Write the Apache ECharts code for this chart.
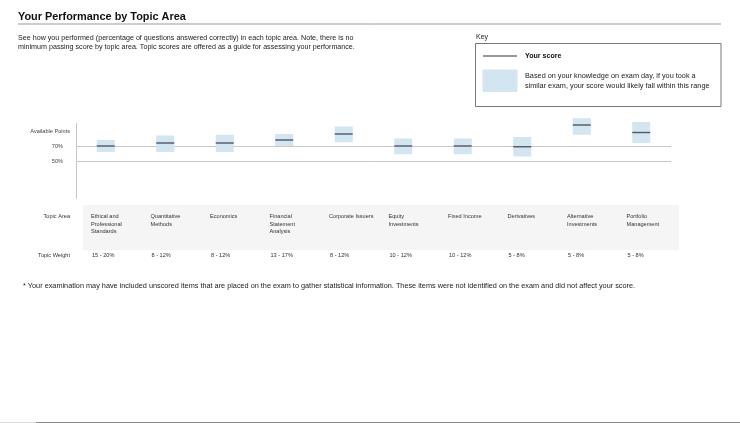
<!DOCTYPE html>
<html><head><meta charset="utf-8">
<script src="https://cdn.jsdelivr.net/npm/echarts@6/dist/echarts.min.js"></script>
<style>html,body{margin:0;padding:0;background:#fff}#c{width:740px;height:423px}</style>
</head><body><div id="c"></div>
<script>
const topics = ["Ethical and\nProfessional\nStandards","Quantitative\nMethods","Economics","Financial\nStatement\nAnalysis","Corporate Issuers","Equity\nInvestments","Fixed Income","Derivatives","Alternative\nInvestments","Portfolio\nManagement"];
const weights = ["15 - 20%","8 - 12%","8 - 12%","13 - 17%","8 - 12%","10 - 12%","10 - 12%","5 - 8%","5 - 8%","5 - 8%"];
const scores = [70, 74, 74, 78, 86, 70, 70, 69, 98, 88];
const rangeLow = [62, 62, 62, 70, 75, 59, 59, 56, 85, 74];
const rangeHigh = [78, 84, 85, 86, 96, 80, 80, 82, 107, 102];
const yLabels = {90: "Available Points", 70: "70%", 50: "50%"};
const refLines = [70, 50];

const FONT = "'Liberation Sans', Arial, Helvetica, sans-serif";
const chart = echarts.init(document.getElementById('c'), null, {renderer: 'canvas'});
const data = topics.map((t, i) => [i, rangeLow[i], rangeHigh[i], scores[i]]);

chart.setOption({
  animation: false,
  grid: {left: 76, right: 69, top: 123.5, height: 75},
  xAxis: {type: 'category', data: topics, axisLine: {show: false}, axisTick: {show: false}, axisLabel: {show: false}, splitLine: {show: false}},
  yAxis: {type: 'value', min: 0, max: 100, interval: 10,
    axisLine: {show: true, lineStyle: {color: '#c4c4c4', width: 1}},
    axisTick: {show: false}, splitLine: {show: false},
    axisLabel: {margin: 6, fontFamily: FONT, fontSize: 5.6, color: '#444',
      formatter: v => yLabels[v] ? (v === 90 ? yLabels[v] : '{p|' + yLabels[v] + '}') : '',
      rich: {p: {fontFamily: FONT, fontSize: 5.6, color: '#444', padding: [0, 7, 0, 0]}}}},
  series: [{
    type: 'line', z: 1, data: [], silent: true,
    markLine: {silent: true, symbol: 'none', label: {show: false}, z: 1,
      lineStyle: {color: '#c8c8c8', width: 1, type: 'solid'},
      data: refLines.map(v => ({yAxis: v}))}
  }, {
    type: 'custom', clip: false, z: 3, data: data,
    renderItem: function (params, api) {
      const i = api.value(0);
      const x = api.coord([i, 0])[0];
      const yl = api.coord([i, api.value(1)])[1];
      const yh = api.coord([i, api.value(2)])[1];
      const ys = api.coord([i, api.value(3)])[1];
      const w = 18;
      return {type: 'group', children: [
        {type: 'rect', shape: {x: x - w / 2, y: yh, width: w, height: yl - yh}, style: {fill: '#d3e5f1'}},
        {type: 'line', shape: {x1: x - w / 2, y1: ys, x2: x + w / 2, y2: ys}, style: {stroke: '#4f5760', lineWidth: 1.4}}
      ]};
    }
  }]
});

function buildGraphics() {
  const g = [];
  // header
  g.push({type: 'text', left: 18, top: 11, style: {text: 'Your Performance by Topic Area', font: 'bold 10.9px ' + FONT, fill: '#111'}});
  g.push({type: 'line', shape: {x1: 18, y1: 24, x2: 721, y2: 24}, style: {stroke: '#9a9a9a', lineWidth: 1}});
  g.push({type: 'text', x: 18, y: 33, style: {text: 'See how you performed (percentage of questions answered correctly) in each topic area. Note, there is no\nminimum passing score by topic area. Topic scores are offered as a guide for assessing your performance.', font: '7.15px ' + FONT, fill: '#222', lineHeight: 9.6}});
  // key
  g.push({type: 'text', x: 476, y: 34, style: {text: 'Key', font: '7px ' + FONT, fill: '#222'}});
  g.push({type: 'rect', shape: {x: 475.5, y: 43.5, width: 245.5, height: 63}, style: {fill: 'none', stroke: '#777', lineWidth: 1}});
  g.push({type: 'line', shape: {x1: 483, y1: 56, x2: 517, y2: 56}, style: {stroke: '#333', lineWidth: 1}});
  g.push({type: 'text', x: 525, y: 52.5, style: {text: 'Your score', font: 'bold 7.1px ' + FONT, fill: '#111'}});
  g.push({type: 'rect', shape: {x: 482.5, y: 69.5, width: 35, height: 22.5}, style: {fill: '#d3e5f1'}});
  g.push({type: 'text', x: 525, y: 70.5, style: {text: 'Based on your knowledge on exam day, if you took a\nsimilar exam, your score would likely fall within this range', font: '7.3px ' + FONT, fill: '#222', lineHeight: 10.5}});
  // table background
  g.push({type: 'rect', z: -1, shape: {x: 83, y: 205, width: 596, height: 45}, style: {fill: '#f5f5f5'}});
  g.push({type: 'text', x: 70, y: 216, style: {text: 'Topic Area', font: '5.6px ' + FONT, fill: '#333', align: 'right', verticalAlign: 'middle'}});
  g.push({type: 'text', x: 70, y: 255.5, style: {text: 'Topic Weight', font: '5.6px ' + FONT, fill: '#333', align: 'right', verticalAlign: 'middle'}});
  const c0 = chart.convertToPixel({xAxisIndex: 0}, 0);
  const c1 = chart.convertToPixel({xAxisIndex: 0}, 1);
  const band = c1 - c0;
  topics.forEach((t, i) => {
    const start = chart.convertToPixel({xAxisIndex: 0}, i) - band / 2;
    g.push({type: 'text', x: start + 15, y: 212.5, style: {text: t, font: '5.6px ' + FONT, fill: '#333', lineHeight: 7.7}});
    g.push({type: 'text', x: start + 16, y: 255.5, style: {text: weights[i], font: '5.6px ' + FONT, fill: '#333', verticalAlign: 'middle'}});
  });
  g.push({type: 'text', x: 23, y: 286, style: {text: '* Your examination may have included unscored items that are placed on the exam to gather statistical information. These items were not identified on the exam and did not affect your score.', font: '7.3px ' + FONT, fill: '#222', verticalAlign: 'middle'}});
  // bottom rule
  g.push({type: 'line', shape: {x1: 0, y1: 422.5, x2: 36, y2: 422.5}, style: {stroke: '#dcdcdc', lineWidth: 1}});
  g.push({type: 'line', shape: {x1: 36, y1: 422.5, x2: 740, y2: 422.5}, style: {stroke: '#8a8a8a', lineWidth: 1}});
  chart.setOption({graphic: g});
}
buildGraphics();
</script></body></html>
